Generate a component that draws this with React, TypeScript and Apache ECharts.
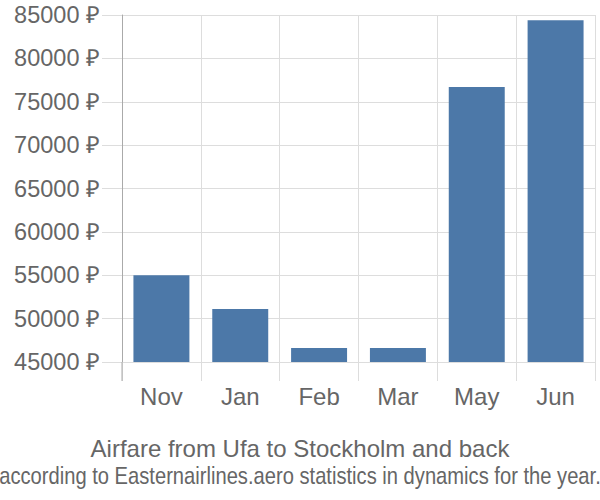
import React, { useEffect, useRef } from "react";
import * as echarts from "echarts";

const categories = ["Nov", "Jan", "Feb", "Mar", "May", "Jun"];
const prices = [55000, 51100, 46600, 46600, 76700, 84400];
const yMin = 45000;
const yMax = 85000;
const yStep = 5000;
const titleText = "Airfare from Ufa to Stockholm and back";
const subtitleText = "according to Easternairlines.aero statistics in dynamics for the year.";

export default function App() {
  const ref = useRef<HTMLDivElement>(null);
  useEffect(() => {
    if (!ref.current) return;
    const chart = echarts.init(ref.current, null, { renderer: "svg" });
    const font = "'Liberation Sans', Arial, sans-serif";
    chart.setOption({
      animation: false,
      backgroundColor: "#ffffff",
      grid: { left: 122, right: 5, top: 15, bottom: 138, containLabel: false },
      title: [
        {
          text: titleText,
          left: "center",
          top: 431,
          textStyle: { fontFamily: font, fontSize: 24, fontWeight: "normal", color: "#666666" },
        },
      ],
      xAxis: {
        type: "category",
        data: categories,
        boundaryGap: true,
        axisLine: { show: false },
        axisTick: { show: true, length: 19, lineStyle: { color: "#dddddd" } },
        splitLine: { show: true, lineStyle: { color: "#dddddd" } },
        axisLabel: { margin: 22, fontFamily: font, fontSize: 24, color: "#666666" },
      },
      yAxis: {
        type: "value",
        min: yMin,
        max: yMax,
        interval: yStep,
        axisLine: { show: true, lineStyle: { color: "#aaaaaa" } },
        axisTick: { show: true, length: 20, lineStyle: { color: "#dddddd" } },
        splitLine: { show: true, lineStyle: { color: "#dddddd" } },
        axisLabel: {
          margin: 22,
          fontFamily: font,
          fontSize: 23.5,
          color: "#666666",
          formatter: (v: number) => `${v} ₽`,
        },
      },
      series: [
        {
          type: "bar",
          data: prices,
          barCategoryGap: "29%",
          itemStyle: { color: "#4c78a8" },
        },
      ],
      graphic: [
        {
          type: "line",
          shape: { x1: 122, y1: 362, x2: 122, y2: 381 },
          style: { stroke: "#aaaaaa", lineWidth: 1 },
          z: 10,
        },
        {
          type: "text",
          x: 300,
          y: 476,
          scaleX: 0.84,
          style: {
            text: subtitleText,
            fontFamily: font,
            fontSize: 24,
            fill: "#666666",
            align: "center",
            verticalAlign: "middle",
          },
        },
      ],
    });
    return () => chart.dispose();
  }, []);
  return <div ref={ref} style={{ width: 600, height: 500, position: "absolute", left: 0, top: 0 }} />;
}
